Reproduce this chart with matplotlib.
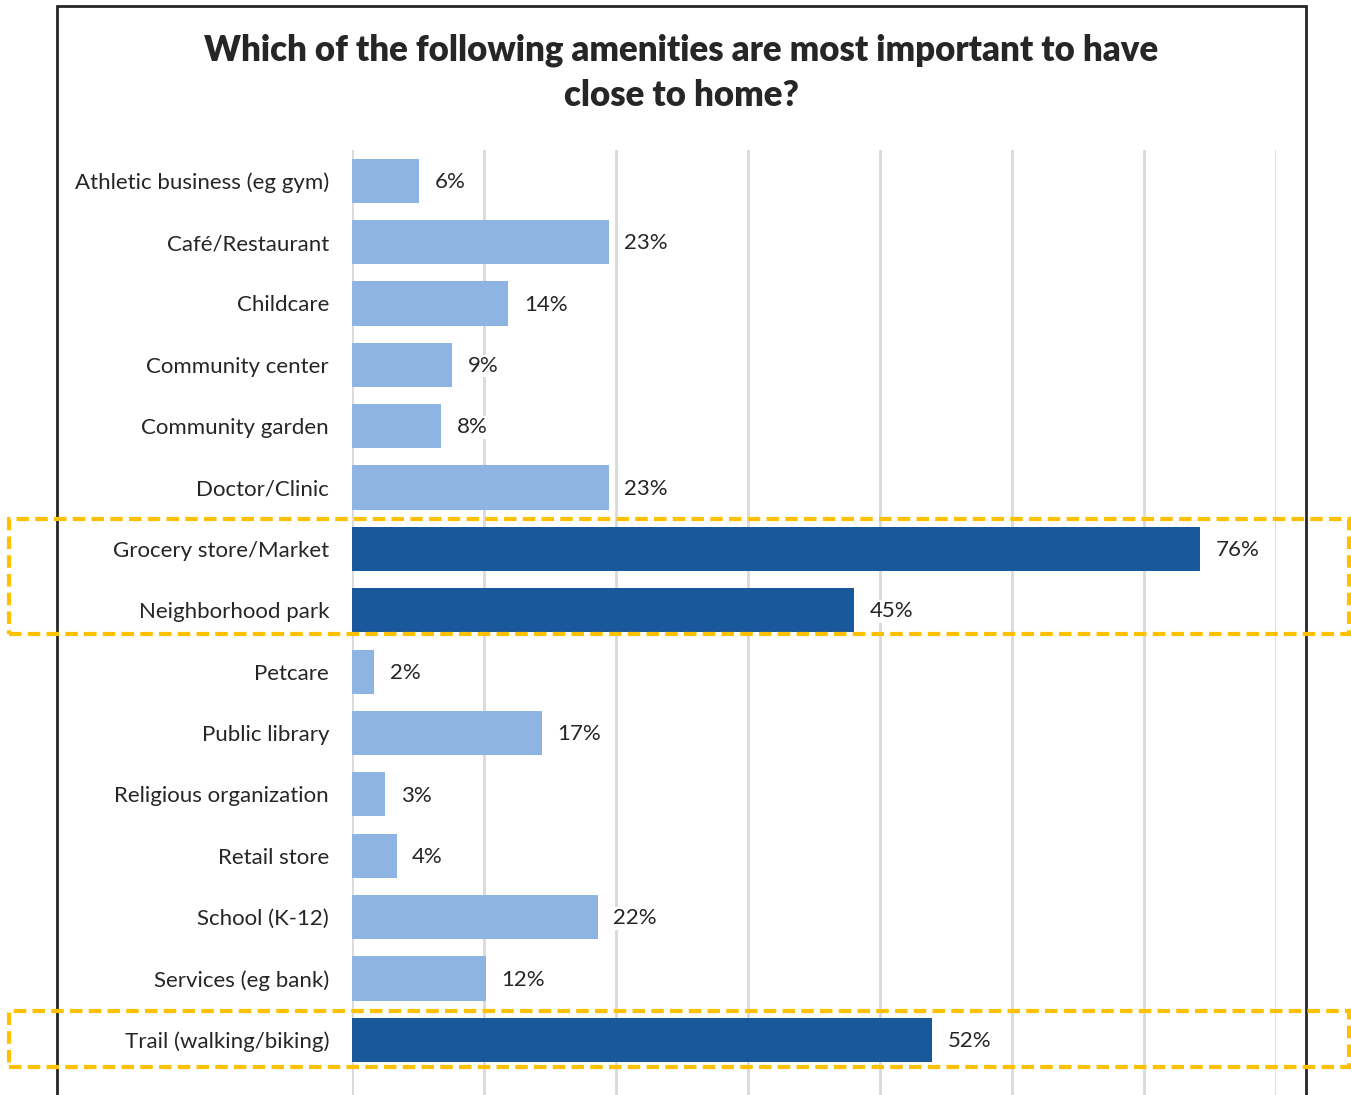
import matplotlib.pyplot as plt
import matplotlib.patches as mpatches
import numpy as np

plt.rcParams['font.family'] = ['Lato', 'DejaVu Sans']

amenities = ['Athletic business (eg gym)', 'Café/Restaurant', 'Childcare',
             'Community center', 'Community garden', 'Doctor/Clinic',
             'Grocery store/Market', 'Neighborhood park', 'Petcare',
             'Public library', 'Religious organization', 'Retail store',
             'School (K-12)', 'Services (eg bank)', 'Trail (walking/biking)']
share = [6, 23, 14, 9, 8, 23, 76, 45, 2, 17, 3, 4, 22, 12, 52]
highlight = ['Grocery store/Market', 'Neighborhood park', 'Trail (walking/biking)']

light = '#8DB4E2'
dark = '#1A589C'
text_col = '#262626'

W, H = 1351, 1095
fig = plt.figure(figsize=(W / 100, H / 100), dpi=100)

# chart frame
fig.add_artist(mpatches.Rectangle((57 / W, -0.01), (1306 - 57) / W, 1.01 - 6 / H,
                                  transform=fig.transFigure, fill=False,
                                  edgecolor='#262626', linewidth=2, zorder=0))

fig.text(681 / W, 1 - 50 / H, 'Which of the following amenities are most important to have',
         ha='center', va='center', fontsize=25, fontweight='heavy', color=text_col)
fig.text(681 / W, 1 - 95 / H, 'close to home?',
         ha='center', va='center', fontsize=25, fontweight='heavy', color=text_col)

ax = fig.add_axes([352 / W, 0, (1276 - 352) / W, (H - 150) / H])
y = np.arange(len(amenities))
colors = [dark if a in highlight else light for a in amenities]
ax.barh(y, share, height=0.72, color=colors, zorder=2)

xmax = 82.8
ax.set_xlim(0, xmax)
ax.set_ylim(14.9, -0.5)
for gx in np.linspace(0, xmax, 8):
    ax.axvline(gx, color='#D9D9D9', linewidth=2, zorder=1)

for yi, v in zip(y, share):
    ax.text(v + 1.4, yi + 0.02, f'{v}%', va='center', ha='left', fontsize=16,
            color=text_col, zorder=3,
            bbox=dict(facecolor='white', edgecolor='none', pad=1))

ax.set_yticks(y)
ax.set_yticklabels(amenities, fontsize=16, color=text_col)
ax.tick_params(axis='y', length=0, pad=16.5)
ax.set_xticks([])
for s in ax.spines.values():
    s.set_visible(False)

# dashed boxes around the highlighted rows
for top, bottom in [(519, 634), (1011, 1067)]:
    fig.add_artist(mpatches.Rectangle((9 / W, 1 - bottom / H), (1349 - 9) / W,
                                      (bottom - top) / H, transform=fig.transFigure,
                                      fill=False, edgecolor='#FFC000', linewidth=3,
                                      linestyle=(0, (3, 1.5)), zorder=5))

fig.savefig('out.png', dpi=100)
